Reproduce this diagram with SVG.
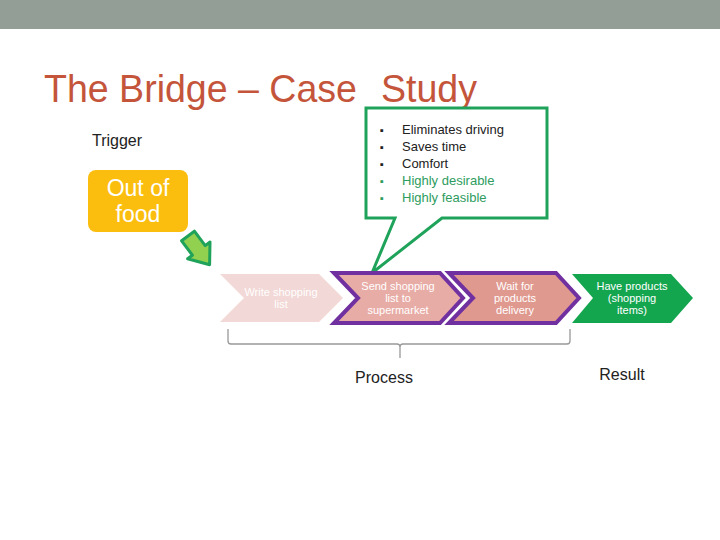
<svg xmlns="http://www.w3.org/2000/svg" width="720" height="540" viewBox="0 0 720 540">
<style>
text{font-family:"Liberation Sans",Arial,sans-serif}
.title{font-size:39px;fill:#c4553b}
.lbl{font-size:16px;fill:#222}
.bul{font-size:13px}
.ch{font-size:11px;fill:#fff;text-anchor:middle}
.pur{stroke:#7030a0;stroke-width:4;stroke-linejoin:miter}
</style>
<rect x="0" y="0" width="720" height="540" fill="#fff"/>
<rect x="0" y="0" width="720" height="29" fill="#939f96"/>
<text class="title" x="44" y="102" textLength="313" lengthAdjust="spacingAndGlyphs">The Bridge – Case</text>
<text class="title" x="381" y="102" textLength="96" lengthAdjust="spacingAndGlyphs">Study</text>
<text class="lbl" x="92" y="146">Trigger</text>

<g id="trigger">
<rect x="88" y="170" width="100" height="62" rx="8" fill="#fbbe0e"/>
<text x="138" y="196" font-size="23" fill="#fff" text-anchor="middle">Out of</text>
<text x="138" y="222" font-size="23" fill="#fff" text-anchor="middle">food</text>
</g>

<g id="connectors">
<polygon points="194.4,231.2 205.2,245.6 210,242 209.6,264.8 187.6,258.8 192.4,255.2 181.6,240.8" fill="#92d050" stroke="#1fa35a" stroke-width="3" stroke-linejoin="round"/>
<path d="M228,329 V341 Q228,344 231,344 H397 Q400,344 400,347 V358 M400,347 Q400,344 403,344 H567 Q570,344 570,341 V329" fill="none" stroke="#999" stroke-width="1.3"/>
</g>

<g id="callout">
<path d="M366,108 H547 V218 H442 L372,273 L395,218 H366 Z" fill="#fff" stroke="#1fa35a" stroke-width="3" stroke-linejoin="miter"/>
<g class="bul">
<text x="380" y="134" fill="#222" font-size="11">▪</text><text x="402" y="134" fill="#222">Eliminates driving</text>
<text x="380" y="151" fill="#222" font-size="11">▪</text><text x="402" y="151" fill="#222">Saves time</text>
<text x="380" y="168" fill="#222" font-size="11">▪</text><text x="402" y="168" fill="#222">Comfort</text>
<text x="380" y="185" fill="#2e9c60" font-size="11">▪</text><text x="402" y="185" fill="#2e9c60">Highly desirable</text>
<text x="380" y="202" fill="#2e9c60" font-size="11">▪</text><text x="402" y="202" fill="#2e9c60">Highly feasible</text>
</g>
</g>

<g id="step1">
<polygon points="220,274 319,274 343,298 319,322 220,322 244,298" fill="#f2d8d6"/>
<text class="ch" x="281" y="296">Write shopping</text>
<text class="ch" x="281" y="308">list</text>
</g>
<g id="step2">
<polygon class="pur" points="334,273 440,273 463,298 440,323 334,323 358,298" fill="#e8aca6"/>
<text class="ch" x="398" y="290">Send shopping</text>
<text class="ch" x="398" y="302">list to</text>
<text class="ch" x="398" y="314">supermarket</text>
</g>
<g id="step3">
<polygon class="pur" points="449,273 556,273 579,298 556,323 449,323 473,298" fill="#e0998f"/>
<text class="ch" x="515" y="290">Wait for</text>
<text class="ch" x="515" y="302">products</text>
<text class="ch" x="515" y="314">delivery</text>
</g>
<g id="result">
<polygon points="572,274 671,274 693,298 671,323 572,323 593,298" fill="#14a54f"/>
<text class="ch" x="632" y="290">Have products</text>
<text class="ch" x="632" y="302">(shopping</text>
<text class="ch" x="632" y="314">items)</text>
</g>

<text class="lbl" x="384" y="383" text-anchor="middle">Process</text>
<text class="lbl" x="622" y="380" text-anchor="middle">Result</text>
</svg>
